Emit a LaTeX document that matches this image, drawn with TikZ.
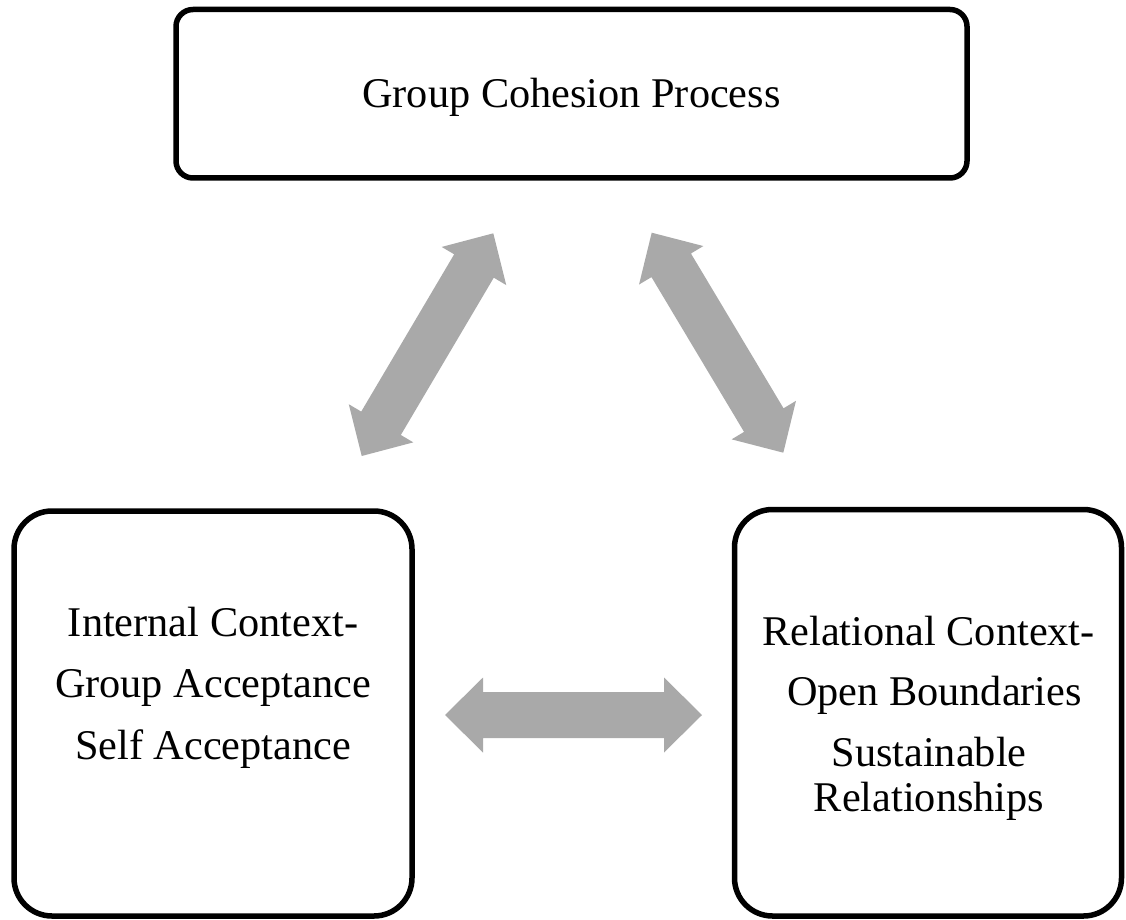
\documentclass[tikz,border=0pt]{standalone}
\usepackage{fontspec}
\setmainfont{Liberation Serif}
\usetikzlibrary{calc}
\definecolor{arrowgray}{RGB}{169,169,169}

% geometry of the double-headed block arrows
\def\headlen{38pt}
\def\headhalf{37.5pt}
\def\shafthalf{23pt}

% filled double-headed block arrow between two tip coordinates
\newcommand\blockarrow[2]{%
  \fill[arrowgray] (#1)
    -- ($(#1)!\headlen!(#2)!\headhalf!90:(#2)$)
    -- ($(#1)!\headlen!(#2)!\shafthalf!90:(#2)$)
    -- ($(#2)!\headlen!(#1)!\shafthalf!-90:(#1)$)
    -- ($(#2)!\headlen!(#1)!\headhalf!-90:(#1)$)
    -- (#2)
    -- ($(#2)!\headlen!(#1)!\headhalf!90:(#1)$)
    -- ($(#2)!\headlen!(#1)!\shafthalf!90:(#1)$)
    -- ($(#1)!\headlen!(#2)!\shafthalf!-90:(#2)$)
    -- ($(#1)!\headlen!(#2)!\headhalf!-90:(#2)$)
    -- cycle;}

\begin{document}
\begin{tikzpicture}[x=1pt,y=-1pt,
  panel/.style={draw=black, line width=5.5pt, rounded corners=#1, fill=white, inner sep=0pt},
  lbl/.style={anchor=base, inner sep=0pt, font=\fontsize{42.3}{50}\selectfont},
]
\useasboundingbox (0,0) rectangle (1126,920);

% the three context boxes
\node[panel=17pt, minimum width=791pt, minimum height=168.5pt] (top) at (571.5,93.75) {};
\node[panel=38pt, minimum width=398pt, minimum height=405pt] (left) at (213,713.5) {};
\node[panel=38pt, minimum width=387pt, minimum height=406.5pt] (right) at (928,712.75) {};

% box texts
\node[lbl] (ttop) at (571.5,108) {Group Cohesion Process};
\node[lbl] (tl1) at (213,636) {Internal Context-};
\node[lbl] (tl2) at (213,697) {Group Acceptance};
\node[lbl] (tl3) at (213,759) {Self Acceptance};
\node[lbl] (tr1) at (928.5,645) {Relational Context-};
\node[lbl] (tr2) at (934.5,705) {Open Boundaries};
\node[lbl] (tr3) at (929,766) {Sustainable};
\node[lbl] (tr4) at (929,811) {Relationships};

% arrow tips
\coordinate (ulA) at (361.7,456);
\coordinate (ulB) at (493.3,233.3);
\coordinate (urA) at (651.7,232.7);
\coordinate (urB) at (783.3,452.7);
\coordinate (hA) at (445,715);
\coordinate (hB) at (702,715);

% two-way links between the contexts
\blockarrow{ulA}{ulB}
\blockarrow{urA}{urB}
\blockarrow{hA}{hB}
\end{tikzpicture}
\end{document}
